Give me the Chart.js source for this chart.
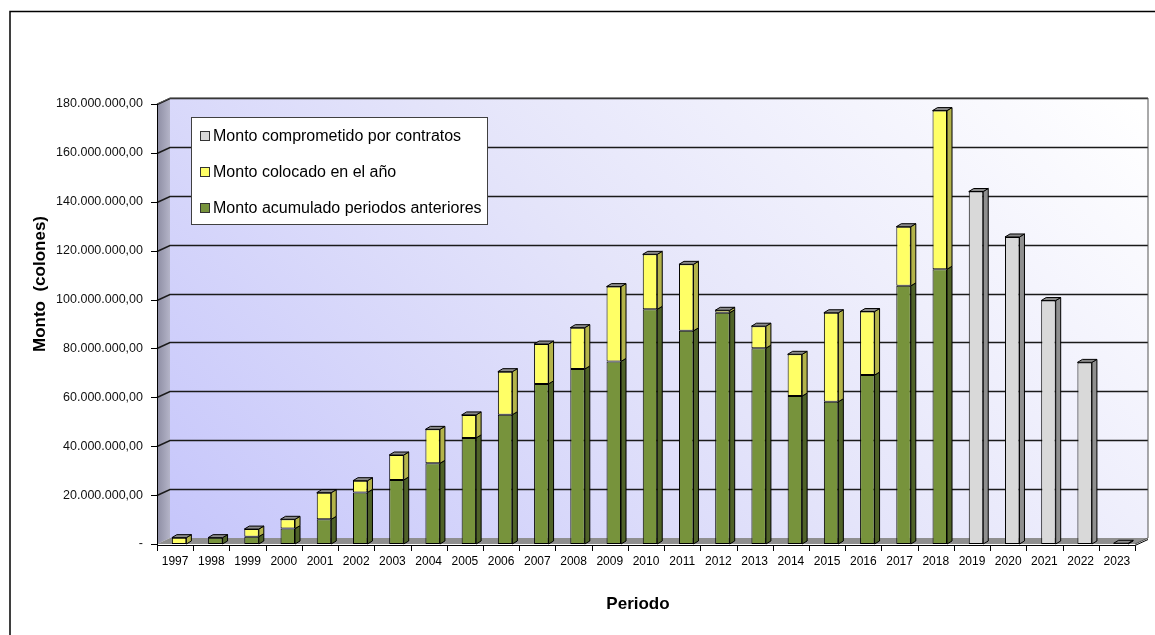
<!DOCTYPE html>
<html><head><meta charset="utf-8">
<script src="https://cdn.jsdelivr.net/npm/chart.js@4.4.1/dist/chart.umd.min.js"></script>
<style>html,body{margin:0;padding:0;background:#fff;overflow:hidden}canvas{display:block}</style>
</head><body>
<canvas id="c" width="1155" height="635"></canvas>
<script>
// ---- data ----
const years = ['1997','1998','1999','2000','2001','2002','2003','2004','2005','2006','2007','2008','2009','2010','2011','2012','2013','2014','2015','2016','2017','2018','2019','2020','2021','2022','2023'];
const acumulado = [0, 2600000, 3000000, 6300000, 10100000, 21100000, 26200000, 33000000, 43400000, 52900000, 65500000, 71600000, 74700000, 96000000, 87200000, 94600000, 80100000, 60500000, 58200000, 69100000, 105600000, 112400000, 0, 0, 0, 0, 0];
const colocado = [2600000, 0, 3100000, 3800000, 10900000, 4800000, 10200000, 13900000, 9400000, 17600000, 16300000, 16900000, 30600000, 22500000, 27200000, 1000000, 9000000, 17100000, 36400000, 26000000, 24200000, 64900000, 0, 0, 0, 0, 0];
const comprometido = [0, 0, 0, 0, 0, 0, 0, 0, 0, 0, 0, 0, 0, 0, 0, 0, 0, 0, 0, 0, 0, 0, 144200000, 125600000, 99600000, 74300000, 300000];
const seriesNames = ['Monto acumulado periodos anteriores', 'Monto colocado en el año', 'Monto comprometido por contratos'];
const yMax = 180000000;
const yStep = 20000000;
const yTitle = 'Monto  (colones)';
const xTitle = 'Periodo';

// ---- styles ----
const FONT = '"Liberation Sans", Arial, sans-serif';
const FRONT = ['#77933c', '#ffff66', '#d9d9d9'];
const SIDE = ['#4f6228', '#b3b34a', '#8f8f8f'];
const TOP = '#8a8a8a';
const DX = 13, DY = -6;      // wall depth
const BDX = 5, BDY = -3;     // bar depth
const BSHIFT = 4;            // bar offset toward middle depth

function fmt(v) {
  if (v === 0) return '-';
  const s = Math.round(v).toString().replace(/\B(?=(\d{3})+(?!\d))/g, '.');
  return s + ',00';
}

const scene = {
  id: 'scene',
  beforeDraw(chart) {
    const ctx = chart.ctx, a = chart.chartArea, ys = chart.scales.y;
    const L = a.left, R = a.right, T = a.top, B = a.bottom;
    ctx.save();
    // outer frame
    ctx.strokeStyle = '#000'; ctx.lineWidth = 1.5;
    ctx.beginPath(); ctx.moveTo(10, 635); ctx.lineTo(10, 11.5); ctx.lineTo(1155, 11.5); ctx.stroke();
    // back wall (diagonal gradient)
    const g = ctx.createLinearGradient(L + DX, B + DY, L + DX + 700, B + DY - 700);
    g.addColorStop(0, '#c6c6fb'); g.addColorStop(0.5, '#e4e4fa'); g.addColorStop(1, '#ffffff');
    ctx.fillStyle = g;
    ctx.fillRect(L + DX, T + DY, R - L, B - T);
    // side wall
    const sg = ctx.createLinearGradient(L, 0, L + DX, 0);
    sg.addColorStop(0, '#8d8da3'); sg.addColorStop(1, '#b4b4c8');
    ctx.fillStyle = sg;
    ctx.beginPath(); ctx.moveTo(L, T); ctx.lineTo(L + DX, T + DY); ctx.lineTo(L + DX, B + DY); ctx.lineTo(L, B); ctx.closePath(); ctx.fill();
    // floor
    ctx.fillStyle = '#8f8f8f';
    ctx.beginPath(); ctx.moveTo(L, B); ctx.lineTo(R, B); ctx.lineTo(R + DX, B + DY); ctx.lineTo(L + DX, B + DY); ctx.closePath(); ctx.fill();
    // gridlines
    ctx.strokeStyle = '#1a1a1a'; ctx.lineWidth = 1.5;
    for (let v = yStep; v <= yMax; v += yStep) {
      const py = Math.round(ys.getPixelForValue(v)) + 0.5;
      ctx.beginPath(); ctx.moveTo(L, py); ctx.lineTo(L + DX, py + DY); ctx.lineTo(R + DX, py + DY); ctx.stroke();
    }
    // wall borders
    ctx.strokeStyle = '#555'; ctx.lineWidth = 1;
    ctx.beginPath(); ctx.moveTo(L, T); ctx.lineTo(L + DX, T + DY); ctx.lineTo(R + DX, T + DY); ctx.lineTo(R + DX, B + DY); ctx.lineTo(R, B); ctx.stroke();
    // y axis line + ticks
    ctx.strokeStyle = '#000'; ctx.lineWidth = 1;
    ctx.beginPath(); ctx.moveTo(L + 0.5, T); ctx.lineTo(L + 0.5, B + 1); ctx.stroke();
    for (let v = 0; v <= yMax; v += yStep) {
      const py = Math.round(ys.getPixelForValue(v)) + 0.5;
      ctx.beginPath(); ctx.moveTo(L - 6, py); ctx.lineTo(L, py); ctx.stroke();
    }
    // x axis line + ticks
    ctx.beginPath(); ctx.moveTo(L, B + 1.5); ctx.lineTo(R, B + 1.5); ctx.lineTo(R + DX, B + DY + 1.5); ctx.stroke();
    const cw = (R - L) / years.length;
    for (let i = 0; i <= years.length; i++) {
      const px = Math.round(L + i * cw) + 0.5;
      ctx.beginPath(); ctx.moveTo(px, B + 1.5); ctx.lineTo(px, B + 7); ctx.stroke();
    }
    ctx.restore();
  },
  beforeDatasetsDraw(chart) {
    chart.ctx.save();
    chart.ctx.translate(BSHIFT, 0);
  },
  afterDatasetsDraw(chart) {
    const ctx = chart.ctx;
    ctx.lineWidth = 1; ctx.strokeStyle = '#000';
    const n = years.length;
    for (let i = 0; i < n; i++) {
      let topEl = null;
      for (let d = 0; d < chart.data.datasets.length; d++) {
        const val = chart.data.datasets[d].data[i];
        if (!val) continue;
        const el = chart.getDatasetMeta(d).data[i];
        const r = el.x + el.width / 2, t = Math.min(el.y, el.base), b = Math.max(el.y, el.base);
        ctx.fillStyle = SIDE[d];
        ctx.beginPath(); ctx.moveTo(r, t); ctx.lineTo(r + BDX, t + BDY); ctx.lineTo(r + BDX, b + BDY); ctx.lineTo(r, b); ctx.closePath();
        ctx.fill(); ctx.stroke();
        topEl = el;
      }
      if (topEl) {
        const l = topEl.x - topEl.width / 2, r = topEl.x + topEl.width / 2, t = Math.min(topEl.y, topEl.base);
        ctx.fillStyle = TOP;
        ctx.beginPath(); ctx.moveTo(l, t); ctx.lineTo(l + BDX, t + BDY); ctx.lineTo(r + BDX, t + BDY); ctx.lineTo(r, t); ctx.closePath();
        ctx.fill(); ctx.stroke();
      }
    }
    ctx.restore();
  },
  afterDraw(chart) {
    const ctx = chart.ctx;
    ctx.save();
    // legend
    const lx = 191.5, ly = 117.5, lw = 296, lh = 107;
    ctx.fillStyle = '#fff'; ctx.fillRect(lx, ly, lw, lh);
    ctx.strokeStyle = '#404040'; ctx.lineWidth = 1; ctx.strokeRect(lx, ly, lw, lh);
    const order = [2, 1, 0];
    ctx.font = '16px ' + FONT; ctx.textBaseline = 'middle'; ctx.textAlign = 'left';
    order.forEach((d, k) => {
      const cy = 135.7 + k * 36;
      ctx.fillStyle = FRONT[d]; ctx.fillRect(200.5, Math.round(cy - 4.5) + 0.5, 9, 9);
      ctx.strokeStyle = '#333'; ctx.strokeRect(200.5, Math.round(cy - 4.5) + 0.5, 9, 9);
      ctx.fillStyle = '#000'; ctx.fillText(seriesNames[d], 213, cy + 1);
    });
    // axis titles
    ctx.font = 'bold 17px ' + FONT; ctx.fillStyle = '#000'; ctx.textAlign = 'center';
    ctx.textBaseline = 'alphabetic';
    ctx.fillText(xTitle, 638, 609);
    ctx.translate(45, 284); ctx.rotate(-Math.PI / 2);
    ctx.fillText(yTitle, 0, 0);
    ctx.restore();
  }
};

new Chart(document.getElementById('c'), {
  type: 'bar',
  data: {
    labels: years,
    datasets: [
      { label: seriesNames[0], data: acumulado, backgroundColor: FRONT[0] },
      { label: seriesNames[1], data: colocado, backgroundColor: FRONT[1] },
      { label: seriesNames[2], data: comprometido, backgroundColor: FRONT[2] }
    ]
  },
  options: {
    responsive: false,
    animation: false,
    devicePixelRatio: 1,
    clip: false,
    layout: { padding: { top: 104, right: 20, bottom: 0, left: 0 } },
    datasets: { bar: { borderColor: '#000', borderWidth: 1, borderSkipped: false, categoryPercentage: 1, barPercentage: 0.4 } },
    plugins: { legend: { display: false }, tooltip: { enabled: false } },
    scales: {
      x: {
        stacked: true, offset: true,
        grid: { display: false, drawTicks: false }, border: { display: false },
        ticks: { padding: 10, color: '#000', font: { family: FONT, size: 12 }, maxRotation: 0, autoSkip: false },
        afterFit(s) { s.height = 91; }
      },
      y: {
        stacked: true, min: 0, max: yMax,
        grid: { display: false, drawTicks: false }, border: { display: false },
        ticks: { stepSize: yStep, padding: 14, color: '#111', font: { family: FONT, size: 12.5 }, callback: (v) => fmt(v) },
        afterFit(s) { s.width = 157; }
      }
    }
  },
  plugins: [scene]
});
</script>
</body></html>
